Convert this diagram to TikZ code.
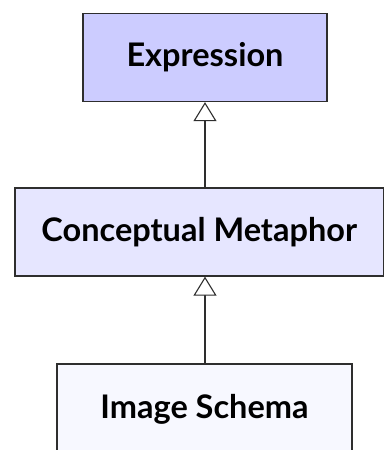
\documentclass[tikz,border=0pt]{standalone}
\usepackage{fontspec}
\setmainfont{Lato}
\usetikzlibrary{arrows.meta}
\definecolor{edgegray}{HTML}{2E2E2E}
\definecolor{topfill}{HTML}{CCCCFF}
\definecolor{midfill}{HTML}{E6E6FF}
\definecolor{lowfill}{HTML}{F7F8FF}
\tikzset{
  conceptbox/.style={draw=edgegray, line width=1.3pt, rectangle, inner sep=0pt,
    minimum height=88pt, font=\fontsize{32.5}{38}\selectfont\bfseries},
  realizes/.style={draw=edgegray, line width=1.2pt,
    -{Triangle[open, length=19pt, width=23pt, line width=1.1pt, fill=white]}}
}
\begin{document}
\begin{tikzpicture}[x=1pt, y=-1pt]
  \useasboundingbox (0,0) rectangle (385,450);
  \clip (0,0) rectangle (385,450);
  \node[conceptbox, fill=topfill, minimum width=244pt] (expr) at (205,57.5) {Expression};
  \node[conceptbox, fill=midfill, minimum width=368.5pt] (metaphor) at (199.25,232) {Conceptual Metaphor};
  \node[conceptbox, fill=lowfill, minimum width=295pt, minimum height=90pt] (schema) at (204.5,409) {Image Schema};
  \draw[realizes] (metaphor.north -| expr.south) -- (expr.south);
  \draw[realizes] (schema.north -| expr.south) -- (metaphor.south -| expr.south);
\end{tikzpicture}
\end{document}
